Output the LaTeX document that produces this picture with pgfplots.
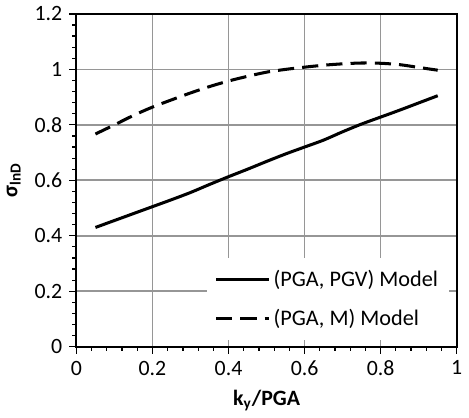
\documentclass[border=0pt]{standalone}
\usepackage{pgfplots}
\pgfplotsset{compat=1.18}
\usepackage{fontspec}
\setmainfont{Carlito}
\definecolor{gridgray}{RGB}{150,150,150}

\begin{document}
\begin{tikzpicture}
\begin{axis}[
  scale only axis, width=188pt, height=164.5pt,
  xmin=0, xmax=1, ymin=0, ymax=1.2,
  xtick={0,0.2,...,1}, ytick={0,0.2,...,1.2},
  minor tick num=4,
  xticklabels={0,0.2,0.4,0.6,0.8,1},
  yticklabels={0,0.2,0.4,0.6,0.8,1,1.2},
  xtick pos=left, ytick pos=left, tick align=outside,
  major tick length=3.5pt, minor tick length=2pt,
  tick style={black, line width=0.6pt},
  axis line style={line width=1pt},
  grid=major, major grid style={gridgray, line width=0.8pt},
  tick label style={font=\fontsize{10.8}{12}\selectfont},
  xlabel={\textbf{k\textsubscript{y}/PGA}},
  ylabel={\textbf{σ\textsubscript{lnD}}},
  label style={font=\fontsize{10.8}{12}\selectfont},
  legend style={at={(0.981,0.018)}, anchor=south east, draw=none, fill=white,
    font=\fontsize{11}{13}\selectfont, row sep=5.5pt, inner sep=4pt,
    nodes={inner xsep=1.5pt}},
  legend cell align=left,
  legend image code/.code={\draw[#1, line width=1.5pt] (0cm,0cm) -- (0.92cm,0cm);},
]
\addplot[black, line width=1.5pt, smooth] coordinates {
  (0.05,0.430)(0.10,0.455)(0.15,0.480)(0.20,0.505)(0.25,0.530)
  (0.30,0.556)(0.35,0.585)(0.40,0.613)(0.45,0.640)(0.50,0.668)
  (0.55,0.695)(0.60,0.720)(0.65,0.745)(0.70,0.775)(0.75,0.803)
  (0.80,0.828)(0.85,0.853)(0.90,0.879)(0.95,0.905)};
\addlegendentry{(PGA, PGV) Model}
\addplot[black, line width=1.5pt, smooth, dash pattern=on 8pt off 4pt] coordinates {
  (0.05,0.767)(0.10,0.800)(0.15,0.834)(0.20,0.864)(0.25,0.890)
  (0.30,0.915)(0.35,0.938)(0.40,0.958)(0.45,0.975)(0.50,0.990)
  (0.55,1.000)(0.60,1.008)(0.65,1.015)(0.70,1.020)(0.75,1.023)
  (0.80,1.022)(0.85,1.017)(0.90,1.007)(0.95,0.997)};
\addlegendentry{(PGA, M) Model}
\end{axis}
\end{tikzpicture}
\end{document}
